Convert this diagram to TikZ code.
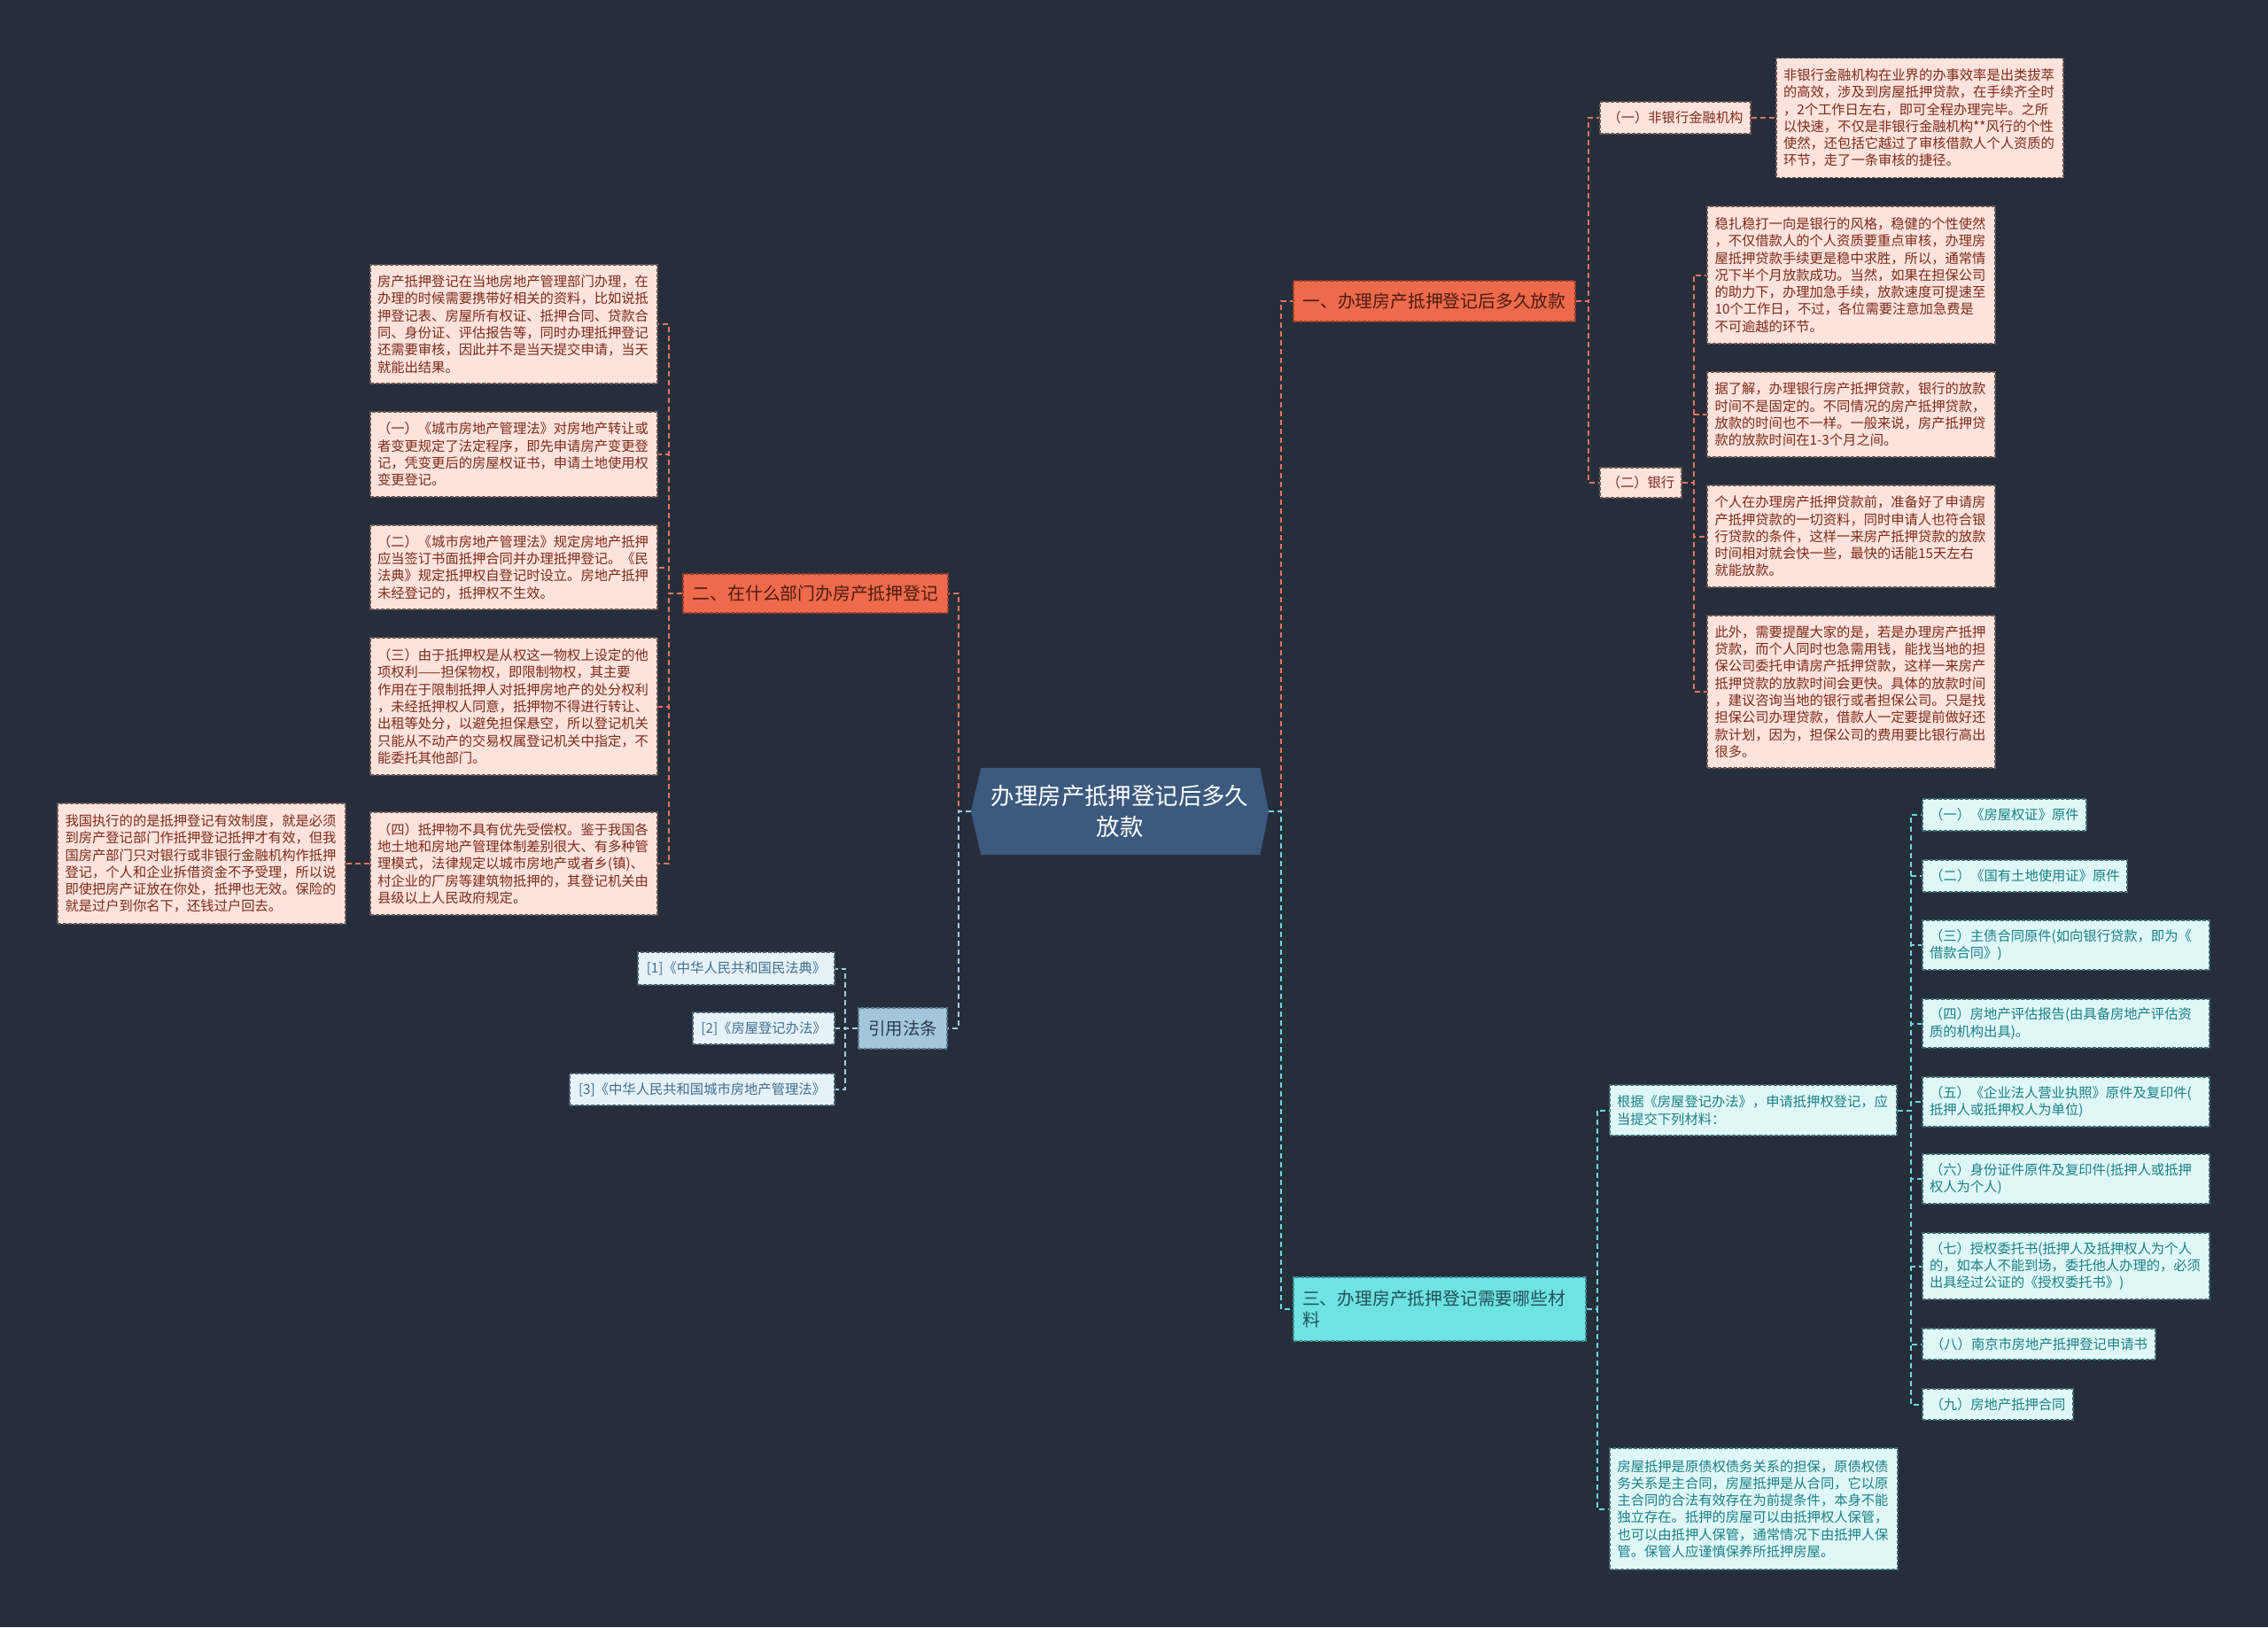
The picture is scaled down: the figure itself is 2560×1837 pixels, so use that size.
\documentclass[tikz,border=0pt]{standalone}
\usepackage{fontspec}
\setmainfont{Noto Sans CJK SC}
\usetikzlibrary{calc}
\definecolor{bgc}{HTML}{262E3C}
\definecolor{pinkfill}{HTML}{FCE3DC}
\definecolor{pinkdraw}{HTML}{6E5550}
\definecolor{pinktext}{HTML}{7D2B1E}
\definecolor{cyfill}{HTML}{DFF7F7}
\definecolor{cydraw}{HTML}{3F6E70}
\definecolor{cytext}{HTML}{1B8086}
\definecolor{ctfill}{HTML}{E7F2F8}
\definecolor{ctdraw}{HTML}{4C6070}
\definecolor{cttext}{HTML}{3F6F8F}
\definecolor{orfill}{HTML}{EE6A4B}
\definecolor{ordraw}{HTML}{9B3D2A}
\definecolor{ortext}{HTML}{4A1C12}
\definecolor{cbfill}{HTML}{6FE2E2}
\definecolor{cbdraw}{HTML}{3C8E92}
\definecolor{cbtext}{HTML}{22505A}
\definecolor{lbfill}{HTML}{A3C6DD}
\definecolor{lbdraw}{HTML}{5A7A90}
\definecolor{lbtext}{HTML}{2A3C4C}
\definecolor{cfill}{HTML}{3C5A7E}
\definecolor{colOr}{HTML}{E9735A}
\definecolor{colCy}{HTML}{6AD9E0}
\definecolor{colLb}{HTML}{A8CBE0}
\pgfdeclarelayer{bg}
\pgfsetlayers{bg,main}
\begin{document}
\begin{tikzpicture}[x=1pt,y=-1pt,
  base/.style={rectangle, inner xsep=0pt, inner ysep=0pt, line width=1.3pt, dash pattern=on 4pt off 2pt},
  small/.style={font=\fontsize{15.3pt}{19.3pt}\selectfont},
  pk/.style={base, small, fill=pinkfill, draw=pinkdraw, text=pinktext, align=left},
  cy/.style={base, small, fill=cyfill, draw=cydraw, text=cytext, align=left},
  ct/.style={base, small, fill=ctfill, draw=ctdraw, text=cttext, align=center},
  brO/.style={base, fill=orfill, draw=ordraw, text=ortext, font=\fontsize{19.8pt}{24pt}\selectfont, align=center},
  brC/.style={base, fill=cbfill, draw=cbdraw, text=cbtext, font=\fontsize{19.8pt}{24pt}\selectfont, align=left},
  brL/.style={base, fill=lbfill, draw=lbdraw, text=lbtext, font=\fontsize{19.4pt}{24pt}\selectfont, align=center},
  ctr/.style={rectangle, inner sep=0pt, text=white, font=\fontsize{26.4pt}{35.7pt}\selectfont, align=center},
  conn/.style={line width=2pt, dash pattern=on 6pt off 4pt},
  lO/.style={conn, draw=colOr},
  lC/.style={conn, draw=colCy},
  lL/.style={conn, draw=colLb},
]
\begin{pgfonlayer}{bg}
\fill[bgc] (0,0) rectangle (2560,1837);
\end{pgfonlayer}
\useasboundingbox (0,0) rectangle (2560,1837);

% centre
\node[ctr, minimum width=336pt, minimum height=98pt] (c) at (1264,916) {办理房产抵押登记后多久\\放款};
\begin{pgfonlayer}{bg}
\fill[cfill] (c.west) -- ([xshift=11.5pt]c.north west) -- ([xshift=-10pt]c.north east) -- (c.east) -- ([xshift=-10pt]c.south east) -- ([xshift=11.5pt]c.south west) -- cycle;
\end{pgfonlayer}

% branches
\node[brO, minimum width=318pt, minimum height=46pt] (b1) at (1619,340) {一、办理房产抵押登记后多久放款};
\node[brO, minimum width=299pt, minimum height=44pt] (b2) at (920.5,670) {二、在什么部门办房产抵押登记};
\node[brC, minimum width=330pt, minimum height=72pt, text width=310pt] (b3) at (1625,1478) {三、办理房产抵押登记需要哪些材\\料};
\node[brL, minimum width=100pt, minimum height=46pt] (cit) at (1019,1161) {引用法条};

% branch 1
\node[pk, minimum width=170pt, minimum height=36pt, align=center] (n1) at (1891,133) {（一）非银行金融机构};
\node[pk, minimum width=92pt, minimum height=34pt, align=center] (n2) at (1852,545) {（二）银行};
\node[pk, minimum width=324pt, minimum height=135pt, text width=308pt] (big) at (2167,133) {非银行金融机构在业界的办事效率是出类拔萃\\的高效，涉及到房屋抵押贷款，在手续齐全时\\，2个工作日左右，即可全程办理完毕。之所\\以快速，不仅是非银行金融机构**风行的个性\\使然，还包括它越过了审核借款人个人资质的\\环节，走了一条审核的捷径。};
\node[pk, minimum width=325pt, minimum height=155pt, text width=308pt] (ra) at (2089.5,310.5) {稳扎稳打一向是银行的风格，稳健的个性使然\\，不仅借款人的个人资质要重点审核，办理房\\屋抵押贷款手续更是稳中求胜，所以，通常情\\况下半个月放款成功。当然，如果在担保公司\\的助力下，办理加急手续，放款速度可提速至\\10个工作日，不过，各位需要注意加急费是\\不可逾越的环节。};
\node[pk, minimum width=325pt, minimum height=96pt, text width=308pt] (rb) at (2089.5,468) {据了解，办理银行房产抵押贷款，银行的放款\\时间不是固定的。不同情况的房产抵押贷款，\\放款的时间也不一样。一般来说，房产抵押贷\\款的放款时间在1-3个月之间。};
\node[pk, minimum width=325pt, minimum height=115pt, text width=308pt] (rc) at (2089.5,605.5) {个人在办理房产抵押贷款前，准备好了申请房\\产抵押贷款的一切资料，同时申请人也符合银\\行贷款的条件，这样一来房产抵押贷款的放款\\时间相对就会快一些，最快的话能15天左右\\就能放款。};
\node[pk, minimum width=325pt, minimum height=172pt, text width=308pt] (rd) at (2089.5,781) {此外，需要提醒大家的是，若是办理房产抵押\\贷款，而个人同时也急需用钱，能找当地的担\\保公司委托申请房产抵押贷款，这样一来房产\\抵押贷款的放款时间会更快。具体的放款时间\\，建议咨询当地的银行或者担保公司。只是找\\担保公司办理贷款，借款人一定要提前做好还\\款计划，因为，担保公司的费用要比银行高出\\很多。};

% branch 2
\node[pk, minimum width=324pt, minimum height=134pt, text width=308pt] (l1) at (580,366) {房产抵押登记在当地房地产管理部门办理，在\\办理的时候需要携带好相关的资料，比如说抵\\押登记表、房屋所有权证、抵押合同、贷款合\\同、身份证、评估报告等，同时办理抵押登记\\还需要审核，因此并不是当天提交申请，当天\\就能出结果。};
\node[pk, minimum width=324pt, minimum height=96pt, text width=308pt] (l2) at (580,513) {（一）《城市房地产管理法》对房地产转让或\\者变更规定了法定程序，即先申请房产变更登\\记，凭变更后的房屋权证书，申请土地使用权\\变更登记。};
\node[pk, minimum width=324pt, minimum height=95pt, text width=308pt] (l3) at (580,640.5) {（二）《城市房地产管理法》规定房地产抵押\\应当签订书面抵押合同并办理抵押登记。《民\\法典》规定抵押权自登记时设立。房地产抵押\\未经登记的，抵押权不生效。};
\node[pk, minimum width=324pt, minimum height=155pt, text width=308pt] (l4) at (580,797.5) {（三）由于抵押权是从权这一物权上设定的他\\项权利——担保物权，即限制物权，其主要\\作用在于限制抵押人对抵押房地产的处分权利\\，未经抵押权人同意，抵押物不得进行转让、\\出租等处分，以避免担保悬空，所以登记机关\\只能从不动产的交易权属登记机关中指定，不\\能委托其他部门。};
\node[pk, minimum width=324pt, minimum height=116pt, text width=308pt] (l5) at (580,975) {（四）抵押物不具有优先受偿权。鉴于我国各\\地土地和房地产管理体制差别很大、有多种管\\理模式，法律规定以城市房地产或者乡(镇)、\\村企业的厂房等建筑物抵押的，其登记机关由\\县级以上人民政府规定。};
\node[pk, minimum width=325pt, minimum height=136pt, text width=308pt] (fl) at (227.5,975) {我国执行的的是抵押登记有效制度，就是必须\\到房产登记部门作抵押登记抵押才有效，但我\\国房产部门只对银行或非银行金融机构作抵押\\登记，个人和企业拆借资金不予受理，所以说\\即使把房产证放在你处，抵押也无效。保险的\\就是过户到你名下，还钱过户回去。};

% citations
\node[ct, minimum width=222pt, minimum height=37pt] (c1) at (831,1093.5) {[1]《中华人民共和国民法典》};
\node[ct, minimum width=160pt, minimum height=36pt] (c2) at (862,1161) {[2]《房屋登记办法》};
\node[ct, minimum width=299pt, minimum height=36pt] (c3) at (792.5,1230) {[3]《中华人民共和国城市房地产管理法》};

% branch 3
\node[cy, minimum width=324pt, minimum height=57pt, text width=308pt] (gj) at (1979,1253.5) {根据《房屋登记办法》，申请抵押权登记，应\\当提交下列材料：};
\node[cy, minimum width=325pt, minimum height=137pt, text width=308pt] (bt) at (1979.5,1703.5) {房屋抵押是原债权债务关系的担保，原债权债\\务关系是主合同，房屋抵押是从合同，它以原\\主合同的合法有效存在为前提条件，本身不能\\独立存在。抵押的房屋可以由抵押权人保管，\\也可以由抵押人保管，通常情况下由抵押人保\\管。保管人应谨慎保养所抵押房屋。};
\node[cy, minimum width=185pt, minimum height=36pt, align=center] (m1) at (2262.5,920) {（一）《房屋权证》原件};
\node[cy, minimum width=231pt, minimum height=36pt, align=center] (m2) at (2285.5,989) {（二）《国有土地使用证》原件};
\node[cy, minimum width=324pt, minimum height=56pt, text width=308pt] (m3) at (2332,1067) {（三）主债合同原件(如向银行贷款，即为《\\借款合同》)};
\node[cy, minimum width=324pt, minimum height=55pt, text width=308pt] (m4) at (2332,1155.5) {（四）房地产评估报告(由具备房地产评估资\\质的机构出具)。};
\node[cy, minimum width=324pt, minimum height=56pt, text width=308pt] (m5) at (2332,1244) {（五）《企业法人营业执照》原件及复印件(\\抵押人或抵押权人为单位)};
\node[cy, minimum width=324pt, minimum height=56pt, text width=308pt] (m6) at (2332,1331) {（六）身份证件原件及复印件(抵押人或抵押\\权人为个人)};
\node[cy, minimum width=324pt, minimum height=75pt, text width=308pt] (m7) at (2332,1429.5) {（七）授权委托书(抵押人及抵押权人为个人\\的，如本人不能到场，委托他人办理的，必须\\出具经过公证的《授权委托书》)};
\node[cy, minimum width=263pt, minimum height=35pt, align=center] (m8) at (2301.5,1517.5) {（八）南京市房地产抵押登记申请书};
\node[cy, minimum width=170pt, minimum height=35pt, align=center] (m9) at (2255,1585.5) {（九）房地产抵押合同};

% connectors: centre
\draw[lO] (c.east) -- ++(14,0) |- (b1.west);
\draw[lC] (c.east) -- ++(14,0) |- (b3.west);
\draw[lO] (c.west) -- ++(-14,0) |- (b2.east);
\draw[lL] (c.west) -- ++(-14,0) |- (cit.east);

% branch 1
\draw[lO] (b1.east) -- ++(14,0) |- (n1.west);
\draw[lO] (b1.east) -- ++(14,0) |- (n2.west);
\draw[lO] (n1.east) -- (big.west);
\foreach \t in {ra,rb,rc,rd} \draw[lO] (n2.east) -- ++(13,0) |- (\t.west);

% branch 2
\foreach \t in {l1,l2,l3,l4,l5} \draw[lO] (b2.west) -- ++(-15,0) |- (\t.east);
\draw[lO] (l5.west) -- (fl.east);

% citations
\foreach \t in {c1,c2,c3} \draw[lL] (cit.west) -- ++(-14,0) |- (\t.east);

% branch 3
\draw[lC] (b3.east) -- ++(12,0) |- (gj.west);
\draw[lC] (b3.east) -- ++(12,0) |- (bt.west);
\foreach \t in {m1,m2,m3,m4,m5,m6,m7,m8,m9} \draw[lC] (gj.east) -- ++(15,0) |- (\t.west);
\end{tikzpicture}
\end{document}
